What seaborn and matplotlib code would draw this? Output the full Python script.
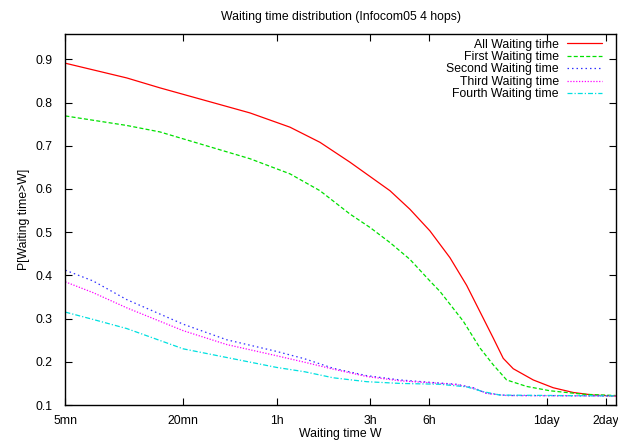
import matplotlib
matplotlib.use("Agg")
import matplotlib.pyplot as plt
from matplotlib.ticker import NullLocator
import pandas as pd
import seaborn as sns

# waiting time W (seconds) and P[waiting time > W]
all_t = [300, 617, 912, 2630, 4210, 5990, 8523, 10785, 13644, 17262, 21834,
         27630, 33624, 40867, 45984, 51721, 58171, 73600, 93082, 117773,
         149024, 194000]
all_p = [0.891, 0.857, 0.834, 0.776, 0.743, 0.708, 0.662, 0.629, 0.596, 0.553,
         0.503, 0.441, 0.377, 0.301, 0.255, 0.208, 0.184, 0.158, 0.140, 0.129,
         0.123, 0.121]

first_t = [300, 617, 912, 2630, 4210, 5990, 8523, 10785, 13644, 17262, 21834,
           24560, 32315, 39327, 45984, 53823, 68093, 89555, 132478, 194000]
first_p = [0.769, 0.747, 0.732, 0.670, 0.635, 0.596, 0.542, 0.511, 0.476,
           0.437, 0.387, 0.363, 0.294, 0.232, 0.193, 0.158, 0.143, 0.133,
           0.125, 0.122]

second_t = [300, 416, 617, 1200, 2000, 3600, 5000, 7006, 10374, 15348, 22703,
            29895, 36338, 42538, 53823, 194000]
second_p = [0.412, 0.387, 0.344, 0.287, 0.251, 0.224, 0.207, 0.185, 0.168,
            0.158, 0.152, 0.148, 0.140, 0.127, 0.122, 0.121]

third_t = [300, 416, 617, 1200, 2000, 3600, 5000, 7006, 10374, 15348, 22703,
           29895, 36338, 42538, 53823, 194000]
third_p = [0.385, 0.360, 0.325, 0.272, 0.240, 0.214, 0.199, 0.183, 0.166,
           0.156, 0.151, 0.147, 0.139, 0.127, 0.122, 0.121]

fourth_t = [300, 416, 617, 1200, 2000, 3600, 5000, 7006, 10374, 15348, 24560,
            33624, 40867, 49749, 194000]
fourth_p = [0.315, 0.298, 0.277, 0.230, 0.210, 0.187, 0.177, 0.163, 0.154,
            0.150, 0.148, 0.142, 0.131, 0.123, 0.121]

labels = ["All Waiting time", "First Waiting time", "Second Waiting time",
          "Third Waiting time", "Fourth Waiting time"]

x_ticks = [300, 1200, 3600, 10800, 21600, 86400, 172800]
x_ticklabels = ["5mn", "20mn", "1h", "3h", "6h", "1day", "2day"]
y_ticks = [0.1, 0.2, 0.3, 0.4, 0.5, 0.6, 0.7, 0.8, 0.9]

series = [(all_t, all_p), (first_t, first_p), (second_t, second_p),
          (third_t, third_p), (fourth_t, fourth_p)]
colors = ["#ff0000", "#00e000", "#3030ff", "#ff00ff", "#00e0e0"]
styles = ["-", (0, (3.2, 1.8)), (0, (1.2, 2.4)), (0, (1.0, 1.3)),
          (0, (4.0, 1.6, 1.0, 1.6))]

sns.set_style("ticks", {"axes.edgecolor": "black", "text.color": "black",
                        "xtick.color": "black", "ytick.color": "black",
                        "axes.labelcolor": "black"})
plt.rcParams["font.family"] = ["Liberation Sans", "DejaVu Sans"]

FS = 8.8
fig = plt.figure(figsize=(6.18, 4.44), dpi=100)
ax = fig.add_axes([0.1058, 0.0878, 0.8904, 0.835])

for (t, p), lab, col, ls in zip(series, labels, colors, styles):
    df = pd.DataFrame({"t": t, "p": p})
    sns.lineplot(data=df, x="t", y="p", ax=ax, color=col, lw=0.9,
                 linestyle=ls, label=lab, estimator=None, sort=False)

ax.set_xscale("log")
ax.set_xlim(300, 194000)
ax.set_ylim(0.1, 0.958)
ax.set_xticks(x_ticks)
ax.set_xticklabels(x_ticklabels)
ax.xaxis.set_minor_locator(NullLocator())
ax.set_yticks(y_ticks)
ax.set_yticklabels([f"{v:.1f}" for v in y_ticks])
ax.tick_params(direction="in", top=True, right=True, length=5, width=0.8,
               labelsize=FS)
ax.tick_params(axis="x", pad=7)
ax.tick_params(axis="y", pad=9)
for sp in ax.spines.values():
    sp.set_visible(True)
    sp.set_linewidth(1.0)

ax.set_title("Waiting time distribution (Infocom05 4 hops)", fontsize=FS, pad=10)
ax.set_xlabel("Waiting time W", fontsize=FS)
ax.set_ylabel("P[Waiting time>W]", fontsize=FS)
ax.xaxis.set_label_coords(0.5, -0.062)
ax.yaxis.set_label_coords(-0.064, 0.5)

ax.legend(loc="upper right", bbox_to_anchor=(0.9756, 0.988), frameon=False,
          markerfirst=False, fontsize=FS, handlelength=2.9, handletextpad=0.65,
          labelspacing=0.03, borderpad=0, borderaxespad=0)

fig.savefig("out.png", dpi=100)
